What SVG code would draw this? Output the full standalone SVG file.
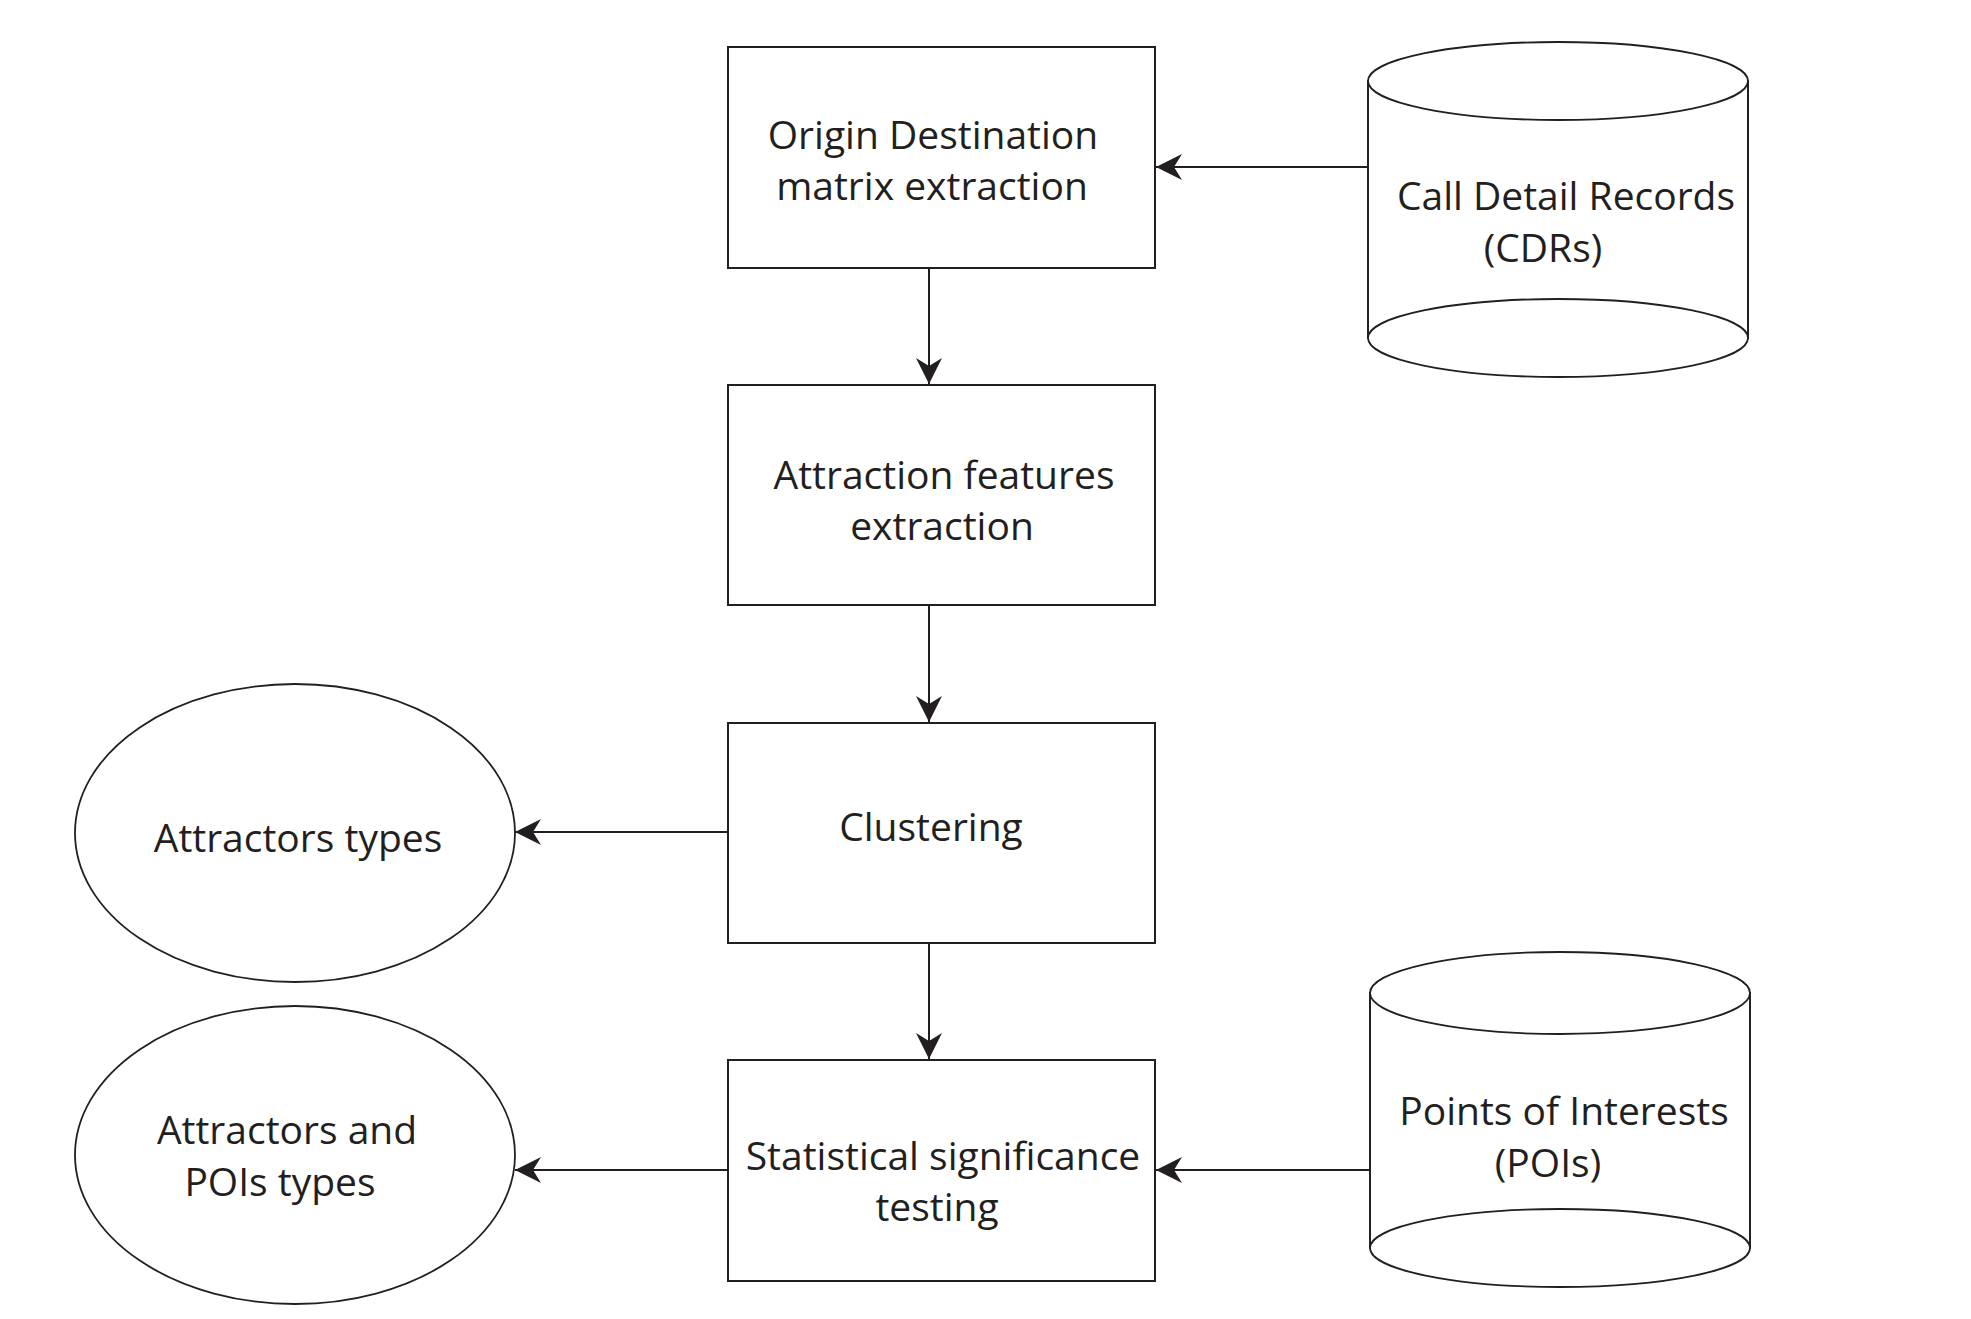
<svg xmlns="http://www.w3.org/2000/svg" width="1971" height="1319" viewBox="0 0 1971 1319">
<style>
.box{fill:#fff;stroke:#231f20;stroke-width:2}
.shape{fill:#fff;stroke:#231f20;stroke-width:1.8}
.lbl{font-family:"Open Sans","Liberation Sans",sans-serif;font-size:39px;fill:#231f20;text-anchor:middle}
.edge{fill:none;stroke:#231f20;stroke-width:2}
</style>
<defs>
<marker id="arr" viewBox="-27 -14 29 28" refX="0" refY="0" markerWidth="29" markerHeight="28" markerUnits="userSpaceOnUse" orient="auto">
<path d="M0,0 L-26,-13 L-18,0 L-26,13 Z" fill="#231f20"/>
</marker>
</defs>
<rect width="1971" height="1319" fill="#fff"/>
<g id="connectors">
<line class="edge" x1="1368" y1="167" x2="1156" y2="167" marker-end="url(#arr)"/>
<line class="edge" x1="929" y1="268" x2="929" y2="384" marker-end="url(#arr)"/>
<line class="edge" x1="929" y1="605" x2="929" y2="722" marker-end="url(#arr)"/>
<line class="edge" x1="929" y1="943" x2="929" y2="1059" marker-end="url(#arr)"/>
<line class="edge" x1="728" y1="832" x2="515" y2="832" marker-end="url(#arr)"/>
<line class="edge" x1="728" y1="1170" x2="515" y2="1170" marker-end="url(#arr)"/>
<line class="edge" x1="1370" y1="1170" x2="1156" y2="1170" marker-end="url(#arr)"/>
</g>
<g id="od">
<rect class="box" x="728" y="47" width="427" height="221"/>
<text class="lbl" x="933" y="149">Origin Destination</text>
<text class="lbl" x="932" y="200">matrix extraction</text>
</g>
<g id="attraction">
<rect class="box" x="728" y="385" width="427" height="220"/>
<text class="lbl" x="944" y="489">Attraction features</text>
<text class="lbl" x="942" y="540">extraction</text>
</g>
<g id="clustering">
<rect class="box" x="728" y="723" width="427" height="220"/>
<text class="lbl" x="931" y="841">Clustering</text>
</g>
<g id="stat">
<rect class="box" x="728" y="1060" width="427" height="221"/>
<text class="lbl" x="943" y="1170">Statistical significance</text>
<text class="lbl" x="937" y="1221">testing</text>
</g>
<g id="cdr">
<path class="shape" d="M1368,81 L1368,338 L1748,338 L1748,81 Z" stroke="none"/>
<line class="edge" x1="1368" y1="81" x2="1368" y2="338" style="stroke-width:1.8"/>
<line class="edge" x1="1748" y1="81" x2="1748" y2="338" style="stroke-width:1.8"/>
<ellipse class="shape" cx="1558" cy="81" rx="190" ry="39"/>
<ellipse class="shape" cx="1558" cy="338" rx="190" ry="39"/>
<text class="lbl" x="1566" y="210">Call Detail Records</text>
<text class="lbl" x="1543" y="262">(CDRs)</text>
</g>
<g id="poi">
<path class="shape" d="M1370,993 L1370,1248 L1750,1248 L1750,993 Z" stroke="none"/>
<line class="edge" x1="1370" y1="993" x2="1370" y2="1248" style="stroke-width:1.8"/>
<line class="edge" x1="1750" y1="993" x2="1750" y2="1248" style="stroke-width:1.8"/>
<ellipse class="shape" cx="1560" cy="993" rx="190" ry="41"/>
<ellipse class="shape" cx="1560" cy="1248" rx="190" ry="39"/>
<text class="lbl" x="1564" y="1125">Points of Interests</text>
<text class="lbl" x="1548" y="1177">(POIs)</text>
</g>
<g id="attractors-types">
<ellipse class="shape" cx="295" cy="833" rx="220" ry="149"/>
<text class="lbl" x="298" y="852">Attractors types</text>
</g>
<g id="attractors-pois">
<ellipse class="shape" cx="295" cy="1155" rx="220" ry="149"/>
<text class="lbl" x="287" y="1144">Attractors and</text>
<text class="lbl" x="280" y="1196">POIs types</text>
</g>
</svg>
